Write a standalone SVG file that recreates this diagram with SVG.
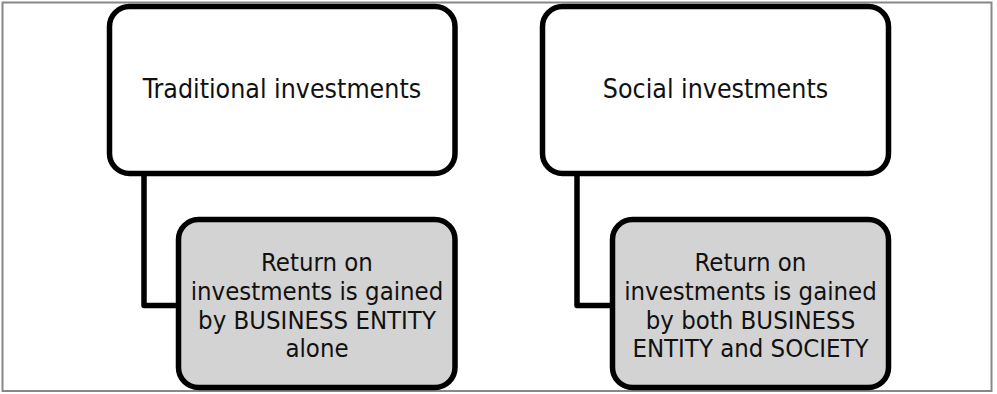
<svg xmlns="http://www.w3.org/2000/svg" width="997" height="394" viewBox="0 0 997 394">
<style>
.frame{fill:none;stroke:#888888;stroke-width:2}
.box{stroke:#000;stroke-width:5.5}
.top{fill:#ffffff}
.sub{fill:#d3d3d3}
.conn{fill:none;stroke:#000;stroke-width:5.5;stroke-linejoin:round}
text{font-family:"DejaVu Sans Condensed","Liberation Sans",sans-serif;fill:#111;text-anchor:middle}
.t1{font-size:26.5px}
.t2{font-size:25.5px}
</style>
<rect width="997" height="394" fill="#ffffff"/>
<rect class="frame" x="2.5" y="2.5" width="989" height="388.5"/>
<g id="connectors">
<path class="conn" d="M144 173 V305.5 H179"/>
<path class="conn" d="M577 173 V305.5 H613"/>
</g>
<g id="node-traditional">
<rect class="box top" x="109.5" y="6.5" width="345.5" height="167" rx="20"/>
<text class="t1" x="282" y="98">Traditional investments</text>
</g>
<g id="node-social">
<rect class="box top" x="542.5" y="6.5" width="346" height="167" rx="20"/>
<text class="t1" x="715.5" y="98">Social investments</text>
</g>
<g id="node-return-traditional">
<rect class="box sub" x="178.5" y="219.5" width="276.5" height="168" rx="20"/>
<text class="t2" x="317" y="271">Return on</text>
<text class="t2" x="317" y="300">investments is gained</text>
<text class="t2" x="317" y="328.5">by BUSINESS ENTITY</text>
<text class="t2" x="317" y="357">alone</text>
</g>
<g id="node-return-social">
<rect class="box sub" x="612.5" y="219.5" width="276" height="168" rx="20"/>
<text class="t2" x="750.5" y="271">Return on</text>
<text class="t2" x="750.5" y="300">investments is gained</text>
<text class="t2" x="750.5" y="328.5">by both BUSINESS</text>
<text class="t2" x="750.5" y="357">ENTITY and SOCIETY</text>
</g>
</svg>
